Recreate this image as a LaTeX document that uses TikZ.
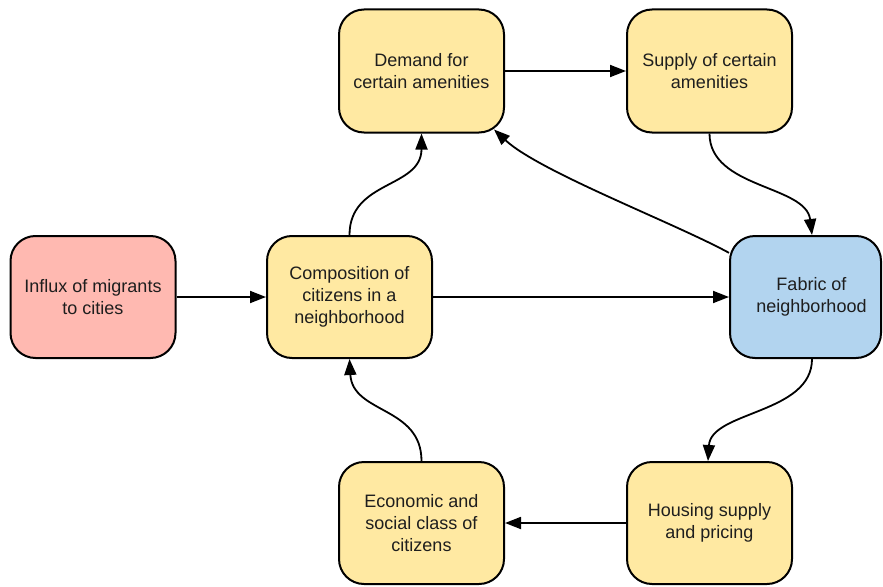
\documentclass[tikz,border=0pt]{standalone}
\usepackage{fontspec}
\setmainfont{Liberation Sans}
\usetikzlibrary{arrows.meta}
\definecolor{boxyellow}{RGB}{255,233,162}
\definecolor{boxpink}{RGB}{255,185,177}
\definecolor{boxblue}{RGB}{178,212,239}
\definecolor{txt}{RGB}{30,30,30}
\tikzset{
  box/.style={draw=black, line width=2pt, rounded corners=25pt, fill=boxyellow,
    minimum width=165pt, minimum height=122pt, inner sep=0pt, align=center,
    text=txt, font=\fontsize{18}{22}\selectfont},
  conn/.style={draw=black, line width=1.8pt, -{Triangle[length=16pt,width=12pt]}}
}
\begin{document}
\begin{tikzpicture}[x=1pt,y=-1pt]
\useasboundingbox (0,0) rectangle (883,586);
\node[box, fill=boxpink] (influx) at (93,297) {Influx of migrants\\to cities};
\node[box] (comp) at (349.5,297) {Composition of\\citizens in a\\neighborhood};
\node[box, minimum height=123pt] (dem) at (421.5,71) {Demand for\\certain amenities};
\node[box, minimum height=123pt] (sup) at (709.5,71) {Supply of certain\\amenities};
\node[box, fill=boxblue, minimum width=151pt] (fab) at (805.5,297) {\hspace*{12pt}Fabric of\\\hspace*{12pt}neighborhood};
\node[box] (hous) at (709.5,523) {Housing supply\\and pricing};
\node[box] (eco) at (421.5,523) {Economic and\\social class of\\citizens};

\draw[conn] (influx.east) -- (comp.west);
\draw[conn] (comp.east) -- (fab.west);
\draw[conn] (dem.east) -- (sup.west);
\draw[conn] (hous.west) -- (eco.east);

\draw[conn] (comp.north) .. controls +(0,-55) and +(0,55) .. (dem.south);
\draw[conn] (fab.150) .. controls +(-55,-30) and +(45,42) .. ([xshift=-11pt,yshift=4pt]dem.south east);
\draw[conn] (sup.south) .. controls +(0,55) and +(-6,-50) .. ([xshift=6.5pt]fab.north);
\draw[conn] ([xshift=6.5pt]fab.south) .. controls +(0,55) and +(3,-50) .. ([xshift=-1.5pt]hous.north);
\draw[conn] (eco.north) .. controls +(0,-55) and +(3,55) .. (comp.south);
\end{tikzpicture}
\end{document}
